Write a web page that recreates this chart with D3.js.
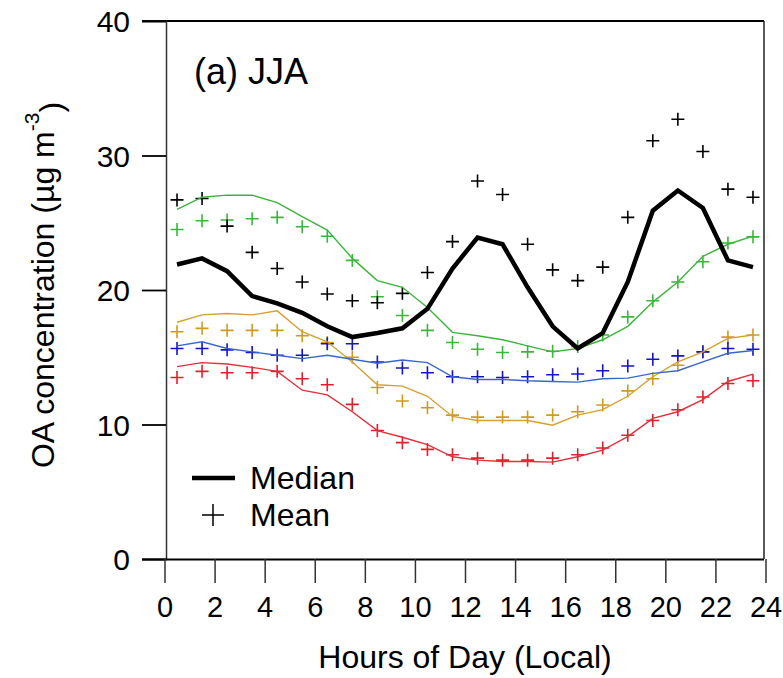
<!DOCTYPE html>
<html>
<head>
<meta charset="utf-8">
<script src="https://cdn.jsdelivr.net/npm/d3@7"></script>
<style>
  html, body { margin: 0; padding: 0; background: #fff; }
  svg text { font-family: Arial, "Liberation Sans", sans-serif; fill: #000; }
</style>
</head>
<body>
<svg id="chart" width="783" height="678"></svg>
<script>
// Hour-of-day bin centres (local time)
const hours = [0.5, 1.5, 2.5, 3.5, 4.5, 5.5, 6.5, 7.5, 8.5, 9.5, 10.5, 11.5,
               12.5, 13.5, 14.5, 15.5, 16.5, 17.5, 18.5, 19.5, 20.5, 21.5, 22.5, 23.5];

// Total OA: median (thick line) and mean (+)
const totalMedian = [21.9, 22.35, 21.4, 19.55, 19.0, 18.3, 17.3, 16.5, 16.8, 17.15, 18.6, 21.6,
                     23.9, 23.4, 20.2, 17.3, 15.65, 16.8, 20.6, 25.9, 27.4, 26.1, 22.2, 21.7];
const totalMean   = [26.7, 26.8, 24.75, 22.8, 21.6, 20.6, 19.7, 19.2, 19.05, 19.75, 21.3, 23.6,
                     28.1, 27.1, 23.4, 21.5, 20.7, 21.7, 25.4, 31.1, 32.7, 30.3, 27.5, 26.9];

// Green component
const greenMedian = [26.0, 26.9, 27.05, 27.05, 26.5, 25.45, 24.45, 22.35, 20.7, 20.2, 18.7, 16.85,
                     16.6, 16.3, 15.85, 15.4, 15.65, 16.3, 17.3, 19.1, 20.6, 22.5, 23.4, 24.0];
const greenMean   = [24.5, 25.15, 25.2, 25.3, 25.4, 24.7, 24.0, 22.2, 19.5, 18.1, 17.0, 16.1,
                     15.6, 15.35, 15.4, 15.45, 15.8, 16.65, 18.0, 19.2, 20.6, 22.1, 23.5, 23.95];

// Gold component
const goldMedian  = [17.6, 18.15, 18.25, 18.15, 18.45, 16.9, 16.15, 14.65, 12.95, 12.85, 12.1, 10.6,
                     10.3, 10.3, 10.3, 9.95, 10.7, 11.1, 12.1, 13.55, 14.65, 15.4, 16.4, 16.65];
const goldMean    = [16.9, 17.15, 17.0, 17.0, 17.0, 16.6, 16.1, 15.0, 12.75, 11.75, 11.25, 10.7,
                     10.55, 10.55, 10.55, 10.7, 10.95, 11.45, 12.5, 13.4, 14.4, 15.4, 16.5, 16.65];

// Blue component
const blueMedian  = [15.85, 16.15, 15.65, 15.4, 15.15, 14.9, 15.15, 14.85, 14.55, 14.8, 14.6, 13.55,
                     13.35, 13.35, 13.25, 13.2, 13.15, 13.4, 13.45, 13.8, 14.0, 14.65, 15.3, 15.5];
const blueMean    = [15.65, 15.65, 15.55, 15.35, 15.15, 15.15, 16.0, 16.0, 14.65, 14.2, 13.85, 13.55,
                     13.55, 13.5, 13.55, 13.7, 13.75, 14.0, 14.35, 14.85, 15.1, 15.4, 15.65, 15.6];

// Red component
const redMedian   = [14.3, 14.6, 14.5, 14.25, 13.95, 12.55, 12.2, 10.95, 9.55, 9.05, 8.5, 7.6,
                     7.35, 7.25, 7.25, 7.2, 7.6, 8.1, 9.1, 10.45, 10.95, 11.85, 13.2, 13.75];
const redMean     = [13.5, 13.95, 13.85, 13.85, 13.95, 13.4, 12.95, 11.5, 9.55, 8.65, 8.15, 7.75,
                     7.5, 7.35, 7.35, 7.5, 7.75, 8.25, 9.2, 10.3, 11.1, 12.05, 13.05, 13.25];

const xTicks = [0, 2, 4, 6, 8, 10, 12, 14, 16, 18, 20, 22, 24];
const yTicks = [0, 10, 20, 30, 40];

const series = [
  { median: redMedian,   mean: redMean,   line: "#e0303a", mark: "#e0202a", width: 1.4 },
  { median: goldMedian,  mean: goldMean,  line: "#d4a030", mark: "#d09a20", width: 1.4 },
  { median: blueMedian,  mean: blueMean,  line: "#3a66cc", mark: "#1414c8", width: 1.4 },
  { median: greenMedian, mean: greenMean, line: "#3cb43c", mark: "#38b838", width: 1.4 },
  { median: totalMedian, mean: totalMean, line: "#000000", mark: "#000000", width: 4.5 }
];

const svg = d3.select("#chart");
const plotL = 166, plotR = 764, plotT = 21, plotB = 559;

const x = d3.scaleLinear().domain([0, 24]).range([plotL - 1.5, plotR + 1.5]);
const y = d3.scaleLinear().domain([0, 40]).range([plotB, plotT]);

// Frame: top and right edges
svg.append("line").attr("x1", plotL - 24).attr("x2", plotR).attr("y1", plotT).attr("y2", plotT)
  .attr("stroke", "#000").attr("stroke-width", 2);
svg.append("line").attr("x1", plotR).attr("x2", plotR).attr("y1", plotT).attr("y2", plotB)
  .attr("stroke", "#222").attr("stroke-width", 1.5);

// Y axis (outward ticks)
const yAxis = svg.append("g").attr("transform", `translate(${plotL},0)`)
  .call(d3.axisLeft(y).tickValues(yTicks).tickSize(24).tickPadding(12).tickFormat(d3.format("d")));
yAxis.select(".domain").attr("stroke", "#333").attr("stroke-width", 1.5);
yAxis.selectAll(".tick line").attr("stroke", "#000").attr("stroke-width", 1.8);
yAxis.selectAll(".tick text").style("font-size", "30px").attr("dy", "0.36em");

// X axis (outward ticks)
const xAxis = svg.append("g").attr("transform", `translate(0,${plotB})`)
  .call(d3.axisBottom(x).tickValues(xTicks).tickSize(24).tickPadding(13).tickFormat(d3.format("d")));
xAxis.select(".domain").attr("d", `M${plotL - 24},0.5H${plotR}`).attr("stroke", "#000").attr("stroke-width", 2);
xAxis.selectAll(".tick line").attr("stroke", "#333").attr("stroke-width", 1.5);
xAxis.selectAll(".tick text").style("font-size", "29px");

// Axis titles
svg.append("text").attr("x", 465).attr("y", 668).attr("text-anchor", "middle")
  .style("font-size", "32px").text("Hours of Day (Local)");

const yTitle = svg.append("text").attr("transform", "translate(54,285) rotate(-90)")
  .attr("text-anchor", "middle").style("font-size", "32px");
yTitle.append("tspan").text("OA concentration (µg m");
yTitle.append("tspan").attr("dy", "-0.7em").style("font-size", "21px").text("-3");
yTitle.append("tspan").attr("dy", "0.7em").text(")");

// Panel label
svg.append("text").attr("x", 194).attr("y", 84).style("font-size", "36px").text("(a) JJA");

// Lines and mean markers
const line = d3.line().x((d, i) => x(hours[i])).y(d => y(d));
const plotArea = svg.append("g");
const arm = 6.5;

series.forEach(s => {
  plotArea.append("g").selectAll("path.mean")
    .data(s.mean)
    .join("path")
    .attr("class", "mean")
    .attr("d", (d, i) => {
      const cx = x(hours[i]), cy = y(d);
      return `M${cx - arm},${cy}H${cx + arm}M${cx},${cy - arm}V${cy + arm}`;
    })
    .attr("stroke", s.mark).attr("stroke-width", 1.6).attr("fill", "none");
});

series.forEach(s => {
  plotArea.append("path").datum(s.median)
    .attr("d", line)
    .attr("fill", "none")
    .attr("stroke", s.line)
    .attr("stroke-width", s.width)
    .attr("stroke-linejoin", "miter");
});

// Legend
const legend = svg.append("g");
legend.append("line").attr("x1", 192).attr("x2", 235).attr("y1", 478).attr("y2", 478)
  .attr("stroke", "#000").attr("stroke-width", 4.5);
legend.append("text").attr("x", 250).attr("y", 489).style("font-size", "32px").text("Median");
legend.append("path").attr("d", "M202,515H224M213,504V526")
  .attr("stroke", "#000").attr("stroke-width", 1.5);
legend.append("text").attr("x", 250).attr("y", 526).style("font-size", "32px").text("Mean");
</script>
</body>
</html>
